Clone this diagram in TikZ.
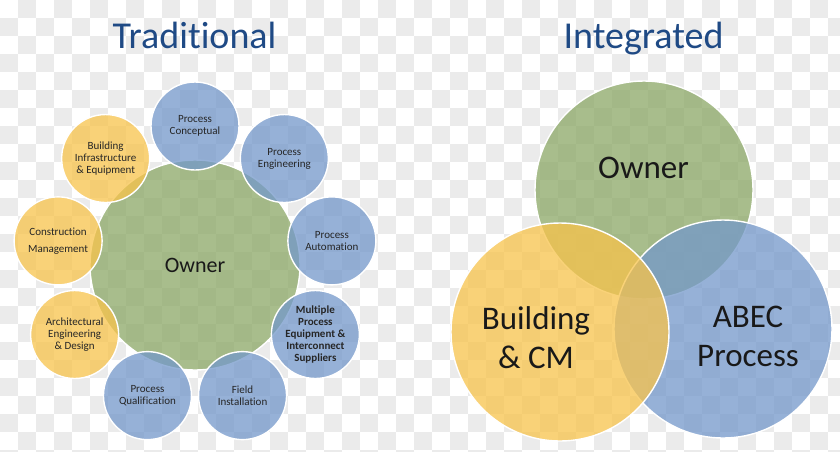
\documentclass[tikz,border=0pt]{standalone}
\usepackage{fontspec}
\setmainfont{Carlito}[Ligatures={NoCommon}]
\usetikzlibrary{calc}
\definecolor{cblue}{HTML}{7398CA}
\definecolor{cgreen}{HTML}{8BA866}
\definecolor{cyellow}{HTML}{F8C34B}
\definecolor{ctitle}{HTML}{1F4A85}
\definecolor{checker}{HTML}{EBEBEB}
\definecolor{ctext}{HTML}{262626}
\begin{document}
\begin{tikzpicture}[x=1pt,y=-1pt,
  bub/.style={circle, draw=white, line width=1.4pt, fill opacity=0.75, text opacity=1, inner sep=0pt, align=center},
  sat/.style={bub, minimum size=88pt, font=\fontsize{11}{12}\selectfont, text=ctext},
  satb/.style={sat, fill=cblue},
  saty/.style={sat, fill=cyellow},
  title/.style={font=\fontsize{38}{44}\selectfont, text=ctitle, anchor=base, inner sep=0pt},
  big/.style={font=\fontsize{33}{39}\selectfont, text=black!90, align=center, inner sep=0pt}
]
\useasboundingbox (0,0) rectangle (840,451);
\begin{scope}
\clip (0,0) rectangle (840,451);
\fill[white] (0,0) rectangle (840,451);
\foreach \i in {0,2,...,46}{\foreach \j in {1,3,...,25}{\fill[checker] (18*\i,18*\j) rectangle ++(18,18);}}
\foreach \i in {1,3,...,45}{\foreach \j in {0,2,...,24}{\fill[checker] (18*\i,18*\j) rectangle ++(18,18);}}
\end{scope}

% titles
\node[title] (ttrad) at (194.5,48) {Traditional};
\node[title] (tint) at (643.5,48) {Integrated};

% traditional
\node[bub, fill=cgreen, minimum size=210pt, font=\fontsize{22}{26}\selectfont, text=black!90] (owner) at (195,265) {Owner};
\node[satb] (conc) at ($(owner)+(-90:139)$) {Process\\Conceptual};
\node[satb] (eng) at ($(owner)+(-50:139)$) {Process\\Engineering};
\node[satb] (auto) at ($(owner)+(-10:139)$) {Process\\Automation};
\node[satb, font=\bfseries\fontsize{11}{12}\selectfont] (mult) at ($(owner)+(30:139)$) {Multiple\\Process\\Equipment \&\\Interconnect\\Suppliers};
\node[satb] (field) at ($(owner)+(70:139)$) {Field\\Installation};
\node[satb] (qual) at ($(owner)+(110:139)$) {Process\\Qualification};
\node[saty] (arch) at ($(owner)+(150:139)$) {Architectural\\Engineering\\\& Design};
\node[saty, font=\fontsize{11}{17}\selectfont] (cm) at ($(owner)+(190:139)$) {Construction\\Management};
\node[saty] (bie) at ($(owner)+(230:139)$) {Building\\Infrastructure\\\& Equipment};

% integrated
\node[bub, fill=cgreen, minimum size=218pt] (iown) at (644,190) {};
\node[bub, fill=cblue, minimum size=218pt] (iabec) at (723,329) {};
\node[bub, fill=cyellow, minimum size=218pt] (ibld) at (560,332) {};
\node[big, anchor=base] (towner) at (643.5,178) {Owner};
\node[big] (tbld) at (536,337.5) {Building\\\& CM};
\node[big] (tabec) at (748,336) {ABEC\\Process};
\end{tikzpicture}
\end{document}
